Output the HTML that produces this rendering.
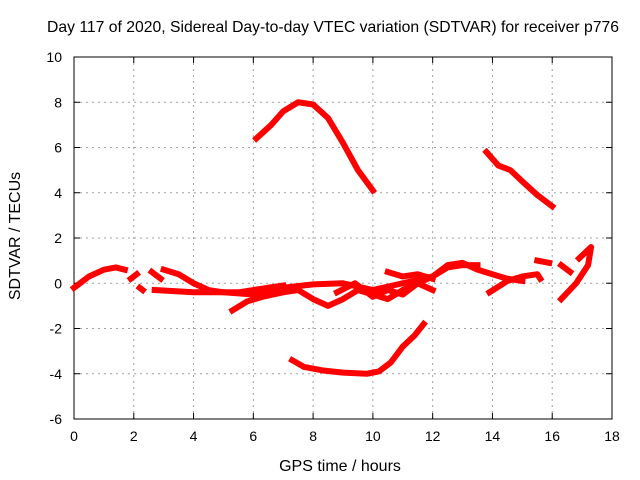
<!DOCTYPE html>
<html><head><meta charset="utf-8"><style>
body{margin:0;background:#fff}
svg{display:block;font-family:"Liberation Sans",sans-serif}
</style></head><body>
<svg id="c" width="640" height="480"></svg>
<script>
const xTicks=[0,2,4,6,8,10,12,14,16,18];
const yTicks=[-6,-4,-2,0,2,4,6,8,10];
const seriesArcTop=[[6.1,6.4],[6.6,7.0],[7.0,7.6],[7.5,8.0],[8.0,7.9],[8.5,7.3],[9.0,6.2],[9.5,5.0],[10.0,4.1]];
const seriesArcBottom=[[7.3,-3.4],[7.7,-3.7],[8.3,-3.85],[9.0,-3.95],[9.8,-4.0],[10.2,-3.9],[10.6,-3.5],[11.0,-2.8],[11.4,-2.3],[11.7,-1.8]];
const seriesRightTop=[[13.8,5.8],[14.2,5.2],[14.6,5.0],[15.0,4.5],[15.5,3.9],[16.0,3.4]];
const seriesEarly=[[0,-0.2],[0.5,0.3],[1.0,0.6],[1.4,0.7],[1.7,0.6]];
const seriesSmallA=[[1.9,0.2],[2.1,0.4]];
const seriesSmallB=[[2.2,-0.2],[2.3,-0.3]];
const seriesSmallC=[[2.6,0.5],[2.9,0.2]];
const seriesUpperBand=[[3.0,0.6],[3.5,0.4],[4.0,0.0],[4.5,-0.3],[5.0,-0.4],[5.5,-0.4],[6.0,-0.3],[6.5,-0.2],[7.0,-0.1]];
const seriesMainBand=[[2.7,-0.3],[4,-0.4],[5,-0.4],[6,-0.5],[7,-0.2],[8,-0.05],[9,0.0],[10,-0.3],[11,0.0],[12,0.3],[12.5,0.8],[13,0.9],[13.5,0.6],[14,0.4],[14.5,0.2],[15,0.1]];
const seriesLowerBand=[[5.3,-1.2],[5.8,-0.8],[6.3,-0.6],[7,-0.4],[7.5,-0.3],[8,-0.7],[8.5,-1.0],[9,-0.7],[9.5,-0.3],[10,-0.5],[10.5,-0.7],[11,-0.3],[11.5,0.0],[12,-0.3]];
const seriesLoop=[[8.8,-0.4],[9.4,0.0],[10,-0.6],[10.5,-0.3],[11,-0.5],[11.5,0.0],[12,0.3],[12.5,0.7],[13,0.8],[13.5,0.8]];
const seriesMidUpper=[[10.5,0.5],[11,0.3],[11.5,0.4],[12,0.2]];
const seriesRightLow=[[13.9,-0.4],[14.5,0.1],[15,0.3],[15.5,0.4],[15.6,0.2]];
const seriesRightSmall=[[15.5,1.0],[15.9,0.9]];
const seriesEndA=[[16.3,0.8],[16.6,0.5]];
const seriesEndB=[[16.3,-0.7],[16.8,0.0],[17.2,0.8],[17.3,1.6],[16.9,1.1]];
const allSeries=[seriesArcTop,seriesArcBottom,seriesRightTop,seriesEarly,seriesSmallA,seriesSmallB,seriesSmallC,seriesUpperBand,seriesMainBand,seriesLowerBand,seriesLoop,seriesMidUpper,seriesRightLow,seriesRightSmall,seriesEndA,seriesEndB];

const L=74,R=612,T=57,B=419;
const sx=v=>L+(v-0)/18*(R-L);
const sy=v=>B-(v+6)/16*(B-T);
const svg=document.getElementById('c');
const NS='http://www.w3.org/2000/svg';
function mk(t,a,p){const e=document.createElementNS(NS,t);for(const k in a)e.setAttribute(k,a[k]);(p||svg).appendChild(e);return e;}

xTicks.forEach(v=>{
  const x=sx(v);
  if(v>0&&v<18){const g=mk('line',{x1:x,x2:x,y1:T,y2:B,stroke:'#a0a0a0','stroke-dasharray':'2,4'});
  
  }
  const t=mk('text',{x:x,y:B+22,'text-anchor':'middle','font-size':14});
  t.textContent=v;
  
  
  mk('line',{x1:x,x2:x,y1:B,y2:B-6,stroke:'#000'});
  mk('line',{x1:x,x2:x,y1:T,y2:T+6,stroke:'#000'});
});
yTicks.forEach(v=>{
  const y=sy(v);
  if(v>-6&&v<10){const g=mk('line',{x1:L,x2:R,y1:y,y2:y,stroke:'#a0a0a0','stroke-dasharray':'2,4'});
  
  }
  const t=mk('text',{x:L-12,y:y+5,'text-anchor':'end','font-size':14});
  t.textContent=v;
  
  
  mk('line',{x1:L,x2:L+6,y1:y,y2:y,stroke:'#000'});
  mk('line',{x1:R,x2:R-6,y1:y,y2:y,stroke:'#000'});
});
const fr=mk('rect',{x:L,y:T,width:R-L,height:B-T,fill:'none',stroke:'#000'});



allSeries.forEach(s=>{
  const p=mk('polyline',{points:s.map(d=>sx(d[0])+','+sy(d[1])).join(' '),fill:'none',stroke:'#ff0000','stroke-width':6,'stroke-linejoin':'round','stroke-linecap':'square'});
  
  
});

const title=mk('text',{x:333,y:32,'text-anchor':'middle','font-size':16,textLength:572,lengthAdjust:'spacingAndGlyphs'});
title.textContent='Day 117 of 2020, Sidereal Day-to-day VTEC variation (SDTVAR) for receiver p776';


const xl=mk('text',{x:340,y:471,'text-anchor':'middle','font-size':16});
xl.textContent='GPS time / hours';


const yl=mk('text',{x:0,y:0,'text-anchor':'middle','font-size':16,transform:'translate(20,236) rotate(-90)'});
yl.textContent='SDTVAR / TECUs';


</script>
</body></html>
